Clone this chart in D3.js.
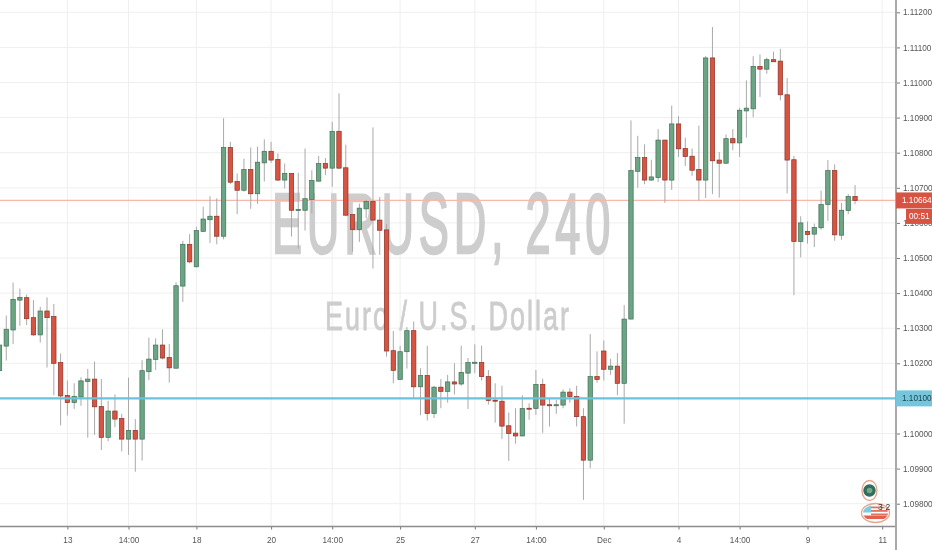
<!DOCTYPE html>
<html>
<head>
<meta charset="utf-8">
<script src="https://cdnjs.cloudflare.com/ajax/libs/d3/7.8.5/d3.min.js"></script>
<style>
html,body{margin:0;padding:0;background:#fff;overflow:hidden}
svg{display:block;filter:blur(0.35px)}
text{font-family:"Liberation Sans",Arial,sans-serif}
</style>
</head>
<body>
<svg id="c" width="932" height="550"></svg>
<script>
const opens=[1.10179,1.10249,1.10295,1.10380,1.10387,1.10330,1.10281,1.10349,1.10333,1.10202,1.10108,1.10088,1.10104,1.10148,1.10155,1.10077,1.09989,1.10064,1.10043,1.09984,1.10009,1.09984,1.10176,1.10211,1.10252,1.10217,1.10186,1.10420,1.10539,1.10475,1.10576,1.10609,1.10619,1.10562,1.10815,1.10718,1.10693,1.10752,1.10683,1.10771,1.10804,1.10781,1.10722,1.10741,1.10635,1.10636,1.10667,1.10719,1.10769,1.10756,1.10861,1.10757,1.10624,1.10581,1.10640,1.10661,1.10608,1.10580,1.10236,1.10154,1.10233,1.10293,1.10133,1.10165,1.10057,1.10132,1.10120,1.10147,1.10141,1.10172,1.10200,1.10202,1.10162,1.10095,1.10092,1.10022,1.10001,1.09993,1.10072,1.10071,1.10140,1.10082,1.10079,1.10081,1.10118,1.10105,1.10048,1.09924,1.10162,1.10235,1.10183,1.10192,1.10143,1.10326,1.10747,1.10786,1.10722,1.10729,1.10836,1.10722,1.10882,1.10812,1.10790,1.10752,1.10722,1.11070,1.10779,1.10770,1.10840,1.10828,1.10919,1.10925,1.11046,1.11038,1.11065,1.11061,1.10965,1.10780,1.10547,1.10576,1.10568,1.10586,1.10652,1.10749,1.10565,1.10635,1.10675];
const closes=[1.10252,1.10297,1.10382,1.10388,1.10327,1.10281,1.10349,1.10330,1.10200,1.10107,1.10088,1.10106,1.10150,1.10155,1.10076,1.09989,1.10064,1.10041,1.09984,1.10009,1.09984,1.10179,1.10212,1.10252,1.10215,1.10187,1.10421,1.10539,1.10489,1.10578,1.10611,1.10619,1.10562,1.10815,1.10716,1.10693,1.10752,1.10683,1.10773,1.10804,1.10779,1.10722,1.10741,1.10636,1.10638,1.10669,1.10721,1.10769,1.10756,1.10861,1.10756,1.10622,1.10581,1.10642,1.10661,1.10608,1.10579,1.10235,1.10180,1.10233,1.10293,1.10133,1.10165,1.10057,1.10132,1.10120,1.10147,1.10141,1.10174,1.10202,1.10203,1.10162,1.10094,1.10092,1.10021,1.10000,1.09993,1.10071,1.10070,1.10140,1.10081,1.10079,1.10082,1.10118,1.10105,1.10048,1.09924,1.10162,1.10154,1.10183,1.10192,1.10143,1.10326,1.10749,1.10786,1.10722,1.10731,1.10836,1.10722,1.10882,1.10811,1.10789,1.10750,1.10722,1.11070,1.10777,1.10770,1.10840,1.10828,1.10921,1.10927,1.11046,1.11038,1.11065,1.11059,1.10965,1.10779,1.10547,1.10600,1.10567,1.10587,1.10652,1.10749,1.10566,1.10636,1.10675,1.10664];
const highs=[1.10271,1.10336,1.10430,1.10413,1.10396,1.10380,1.10361,1.10388,1.10369,1.10228,1.10151,1.10143,1.10160,1.10184,1.10205,1.10155,1.10093,1.10111,1.10056,1.10159,1.10041,1.10209,1.10273,1.10271,1.10297,1.10255,1.10431,1.10549,1.10568,1.10589,1.10646,1.10676,1.10670,1.10898,1.10831,1.10741,1.10783,1.10815,1.10817,1.10838,1.10831,1.10798,1.10769,1.10741,1.10743,1.10812,1.10750,1.10791,1.10785,1.10888,1.10969,1.10823,1.10624,1.10655,1.10665,1.10872,1.10674,1.10596,1.10292,1.10250,1.10303,1.10319,1.10186,1.10250,1.10136,1.10155,1.10167,1.10200,1.10250,1.10215,1.10254,1.10250,1.10181,1.10143,1.10136,1.10060,1.10072,1.10109,1.10086,1.10181,1.10156,1.10101,1.10096,1.10126,1.10129,1.10136,1.10072,1.10283,1.10234,1.10265,1.10213,1.10229,1.10366,1.10892,1.10848,1.10824,1.10780,1.10867,1.10836,1.10934,1.10904,1.10843,1.10812,1.10877,1.11075,1.11158,1.10802,1.10852,1.10867,1.10928,1.11006,1.11075,1.11080,1.11071,1.11088,1.11096,1.11013,1.10791,1.10619,1.10604,1.10598,1.10692,1.10779,1.10767,1.10657,1.10682,1.10708];
const lows=[1.10167,1.10208,1.10255,1.10307,1.10309,1.10278,1.10259,1.10188,1.10109,1.10023,1.10051,1.10070,1.10079,1.09988,1.09996,1.09953,1.09978,1.10018,1.09949,1.09939,1.09891,1.09923,1.10152,1.10181,1.10211,1.10145,1.10186,1.10375,1.10485,1.10473,1.10574,1.10543,1.10539,1.10553,1.10710,1.10625,1.10689,1.10640,1.10654,1.10718,1.10771,1.10720,1.10698,1.10561,1.10527,1.10578,1.10627,1.10717,1.10736,1.10703,1.10753,1.10619,1.10518,1.10546,1.10613,1.10470,1.10509,1.10219,1.10143,1.10154,1.10185,1.10101,1.10052,1.10037,1.10044,1.10072,1.10088,1.10111,1.10136,1.10070,1.10172,1.10151,1.10082,1.10031,1.09984,1.09922,1.09971,1.09992,1.10039,1.10053,1.10002,1.10020,1.10056,1.10072,1.10088,1.10020,1.09811,1.09901,1.10145,1.10151,1.10167,1.10109,1.10028,1.10326,1.10700,1.10710,1.10720,1.10716,1.10657,1.10694,1.10788,1.10762,1.10734,1.10664,1.10671,1.10682,1.10672,1.10769,1.10807,1.10788,1.10843,1.10901,1.10959,1.11025,1.11059,1.10949,1.10684,1.10394,1.10502,1.10541,1.10531,1.10581,1.10606,1.10549,1.10552,1.10625,1.10653];
const priceTicks=[1.098,1.099,1.100,1.101,1.102,1.103,1.104,1.105,1.106,1.107,1.108,1.109,1.110,1.111,1.112];
const timeTickIndex=[10,19,29,40,49,59,70,79,89,100,109,119,130];
const timeTickLabels=["13","14:00","18","20","14:00","25","27","14:00","Dec","4","14:00","9","11"];
const lastPrice=1.10664, alertPrice=1.10100, countdown="00:51";
const symbolText="EURUSD, 240", nameText="Euro / U.S. Dollar";

const W=932,H=550,axisX=896,axisY=526.5;
const svg=d3.select("#c");
const x=d3.scaleLinear().domain([0,130]).range([-0.5,882.2]);
const y=d3.scaleLinear().domain([1.098,1.112]).range([503.7,12.3]);
const fmt=d3.format(".5f");

// grid
const grid=svg.append("g").attr("stroke","#efefef").attr("stroke-width",1);
grid.selectAll("line.h").data(priceTicks).join("line").attr("class","h")
  .attr("x1",0).attr("x2",axisX).attr("y1",d=>y(d)).attr("y2",d=>y(d));
grid.selectAll("line.v").data(timeTickIndex).join("line").attr("class","v")
  .attr("x1",d=>x(d)).attr("x2",d=>x(d)).attr("y1",0).attr("y2",axisY);

// watermark
svg.append("text").text(symbolText).attr("x",272).attr("y",253)
  .attr("font-size",86).attr("fill","#cdcdcd").attr("stroke","#cdcdcd").attr("stroke-width",2.4)
  .style("letter-spacing","9px")
  .attr("textLength",343).attr("lengthAdjust","spacingAndGlyphs");
svg.append("text").text(nameText).attr("x",325).attr("y",330)
  .attr("font-size",40).attr("fill","#cdcdcd").attr("stroke","#cdcdcd").attr("stroke-width",0.8)
  .style("letter-spacing","3px")
  .attr("textLength",246).attr("lengthAdjust","spacingAndGlyphs");

// price lines behind candles
svg.append("line").attr("x1",0).attr("x2",axisX).attr("y1",y(lastPrice)).attr("y2",y(lastPrice))
  .attr("stroke","#f3b8ae").attr("stroke-width",1.2);

// candles
const idx=d3.range(opens.length);
const up=i=>closes[i]>=opens[i];
const c=svg.append("g");
c.selectAll("line.w").data(idx).join("line").attr("class","w")
  .attr("x1",i=>x(i)).attr("x2",i=>x(i)).attr("y1",i=>y(highs[i])).attr("y2",i=>y(lows[i]))
  .attr("stroke","#a9a9a9").attr("stroke-width",1);
c.selectAll("rect").data(idx).join("rect")
  .attr("x",i=>x(i)-2.2).attr("width",4.4)
  .attr("y",i=>y(Math.max(opens[i],closes[i])))
  .attr("height",i=>Math.max(1,Math.abs(y(opens[i])-y(closes[i]))))
  .attr("fill",i=>up(i)?"#6ba583":"#d75442")
  .attr("stroke",i=>up(i)?"#3f6f58":"#8a3227").attr("stroke-width",0.7);

// alert line
svg.append("line").attr("x1",0).attr("x2",axisX).attr("y1",y(alertPrice)).attr("y2",y(alertPrice))
  .attr("stroke","#69c3da").attr("stroke-width",2.4);

// axes
const axR=d3.axisRight(y).tickValues(priceTicks).tickSize(4).tickPadding(3).tickFormat(fmt);
const axB=d3.axisBottom(x).tickValues(timeTickIndex).tickSize(3).tickPadding(8)
  .tickFormat(d=>timeTickLabels[timeTickIndex.indexOf(d)]);
const gR=svg.append("g").attr("transform",`translate(${axisX},0)`).call(axR);
const gB=svg.append("g").attr("transform",`translate(0,${axisY})`).call(axB);
[gR,gB].forEach(g=>{
  g.select(".domain").remove();
  g.selectAll("line").attr("stroke","#777");
  g.selectAll("text").attr("fill","#555").attr("font-size",8.2)
   .style("font-family","'Liberation Sans',Arial,sans-serif");
});
svg.append("line").attr("x1",0).attr("x2",axisX+1).attr("y1",axisY).attr("y2",axisY).attr("stroke","#8c8c8c").attr("stroke-width",1.5);
svg.append("line").attr("x1",axisX).attr("x2",axisX).attr("y1",0).attr("y2",H).attr("stroke","#a8a8a8").attr("stroke-width",2);

// tags
function tag(x0,yc,w,h,fill,color,t,tx){
  svg.append("rect").attr("x",x0).attr("y",yc-h/2).attr("width",w).attr("height",h).attr("fill",fill);
  svg.append("text").text(t).attr("x",tx).attr("y",yc+3).attr("fill",color).attr("font-size",8.2);
}
tag(axisX,y(alertPrice),36,16,"#74c6dc","#1c3f4a",fmt(alertPrice),902);
tag(896,y(lastPrice),36,16,"#d75442","#fff",fmt(lastPrice),902);
tag(906,y(lastPrice)+16,26,15,"#d75442","#fff",countdown,909);

// event icons
const ic=svg.append("g");
ic.append("ellipse").attr("cx",869.5).attr("cy",490.5).attr("rx",7.5).attr("ry",10).attr("fill","#fff").attr("stroke","#e3a78f").attr("stroke-width",1.3);
ic.append("circle").attr("cx",869.5).attr("cy",490.5).attr("r",6.2).attr("fill","#2f6f5e");
ic.append("circle").attr("cx",869.5).attr("cy",490.5).attr("r",2.8).attr("fill","#7aa58d");
svg.append("clipPath").attr("id","flag").append("ellipse").attr("cx",875.5).attr("cy",513).attr("rx",12.5).attr("ry",8);
const fl=svg.append("g").attr("clip-path","url(#flag)");
fl.append("rect").attr("x",860).attr("y",503).attr("width",30).attr("height",20).attr("fill","#fff");
[506.5,510,513.5].forEach(v=>fl.append("rect").attr("x",871).attr("y",v).attr("width",19).attr("height",1.8).attr("fill","#e2725f"));
fl.append("rect").attr("x",860).attr("y",515.5).attr("width",30).attr("height",3.5).attr("fill","#e2604c");
fl.append("rect").attr("x",860).attr("y",503).attr("width",11).attr("height",9.5).attr("fill","#7ccbe0");
ic.append("ellipse").attr("cx",875.5).attr("cy",513).attr("rx",14).attr("ry",9.5).attr("fill","none").attr("stroke","#e3a78f").attr("stroke-width",1.3);
svg.append("text").text("3").attr("x",878).attr("y",510).attr("font-size",8.5).attr("fill","#333");
svg.append("text").text("2").attr("x",885.5).attr("y",510).attr("font-size",8.5).attr("fill","#333");
</script>
</body>
</html>
